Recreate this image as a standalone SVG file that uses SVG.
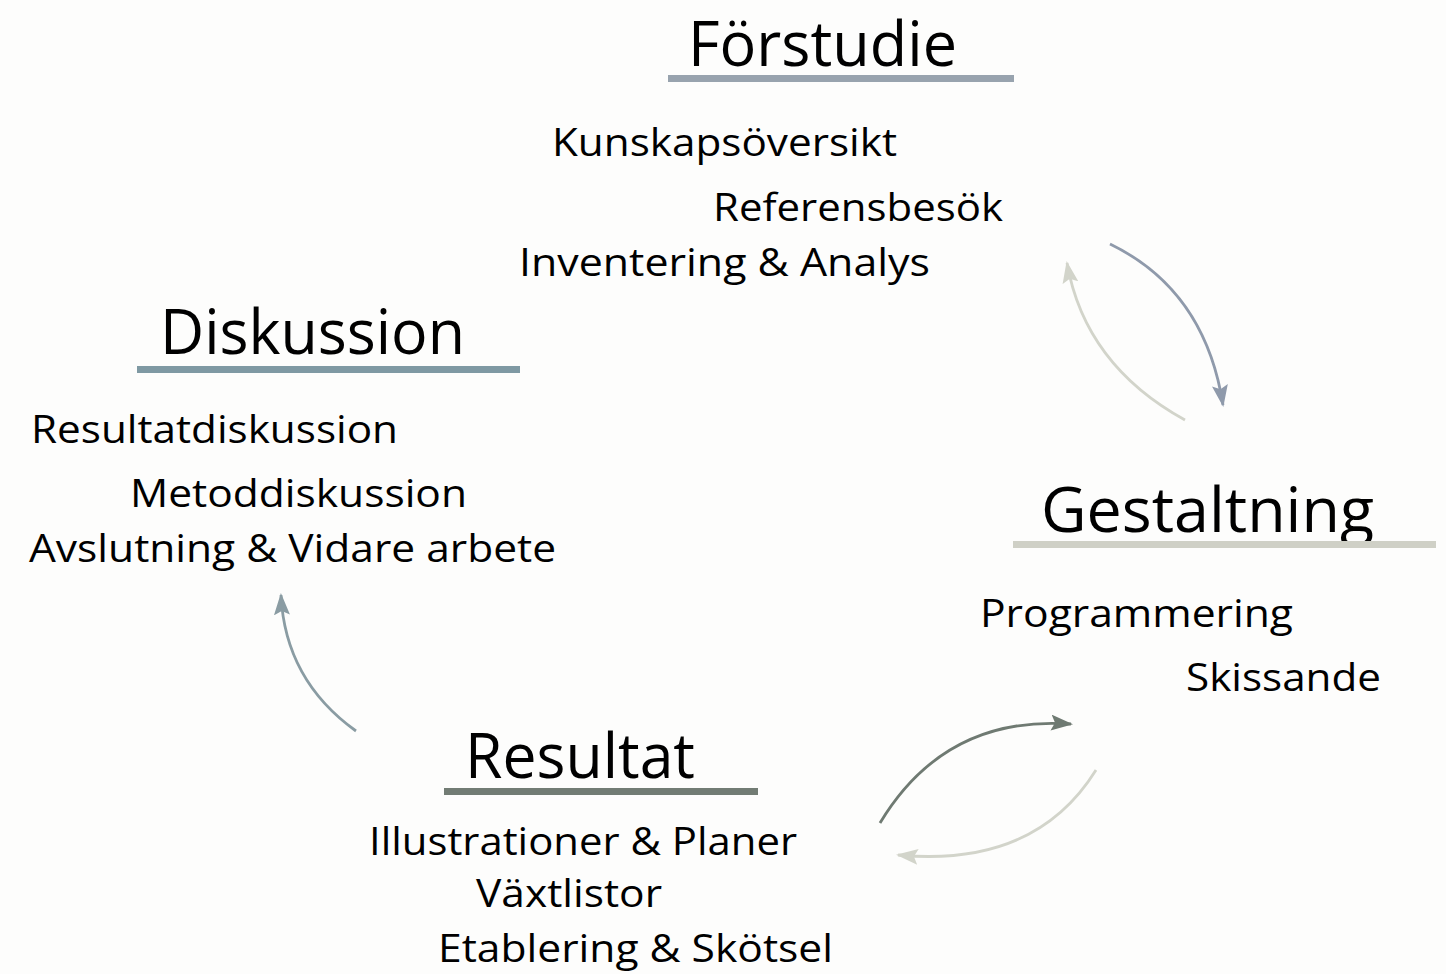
<svg xmlns="http://www.w3.org/2000/svg" width="1446" height="974" viewBox="0 0 1446 974">
<defs>
<style>
text{font-family:"Open Sans","Noto Sans",sans-serif;fill:#000}
.h{font-size:62px}
.s{font-size:38px}
.c{fill:none;stroke-width:2.8}
</style>
<marker id="mA" viewBox="0 0 22 16" refX="20" refY="8" markerWidth="22" markerHeight="16" markerUnits="userSpaceOnUse" orient="auto"><path d="M0,0 L22,8 L0,16 L4,8 Z" fill="#8f9aab"/></marker>
<marker id="mB" viewBox="0 0 22 16" refX="20" refY="8" markerWidth="22" markerHeight="16" markerUnits="userSpaceOnUse" orient="auto"><path d="M0,0 L22,8 L0,16 L4,8 Z" fill="#d2d4ca"/></marker>
<marker id="mC" viewBox="0 0 22 16" refX="20" refY="8" markerWidth="22" markerHeight="16" markerUnits="userSpaceOnUse" orient="auto"><path d="M0,0 L22,8 L0,16 L4,8 Z" fill="#6f7a72"/></marker>
<marker id="mD" viewBox="0 0 22 16" refX="20" refY="8" markerWidth="22" markerHeight="16" markerUnits="userSpaceOnUse" orient="auto"><path d="M0,0 L22,8 L0,16 L4,8 Z" fill="#8a9ca3"/></marker>
</defs>
<rect width="1446" height="974" fill="#fdfdfc"/>
<g id="forstudie">
<text class="h" x="688" y="66" textLength="269" lengthAdjust="spacingAndGlyphs">Förstudie</text>
<rect x="668" y="75" width="346" height="7" fill="#98a3ae"/>
<text class="s" x="552" y="156" textLength="345" lengthAdjust="spacingAndGlyphs">Kunskapsöversikt</text>
<text class="s" x="713" y="221" textLength="290" lengthAdjust="spacingAndGlyphs">Referensbesök</text>
<text class="s" x="519" y="276" textLength="411" lengthAdjust="spacingAndGlyphs">Inventering &amp; Analys</text>
</g>
<g id="diskussion">
<text class="h" x="160" y="354" textLength="305" lengthAdjust="spacingAndGlyphs">Diskussion</text>
<rect x="137" y="366" width="383" height="7" fill="#7f99a3"/>
<text class="s" x="31" y="443" textLength="367" lengthAdjust="spacingAndGlyphs">Resultatdiskussion</text>
<text class="s" x="130" y="507" textLength="337" lengthAdjust="spacingAndGlyphs">Metoddiskussion</text>
<text class="s" x="29" y="562" textLength="527" lengthAdjust="spacingAndGlyphs">Avslutning &amp; Vidare arbete</text>
</g>
<g id="gestaltning">
<text class="h" x="1041" y="532" textLength="333" lengthAdjust="spacingAndGlyphs">Gestaltning</text>
<rect x="1013" y="541" width="423" height="7" fill="#cfd0c6"/>
<text class="s" x="980" y="627" textLength="313" lengthAdjust="spacingAndGlyphs">Programmering</text>
<text class="s" x="1186" y="691" textLength="195" lengthAdjust="spacingAndGlyphs">Skissande</text>
</g>
<g id="resultat">
<text class="h" x="465" y="778" textLength="230" lengthAdjust="spacingAndGlyphs">Resultat</text>
<rect x="444" y="788" width="314" height="7" fill="#727c74"/>
<text class="s" x="369" y="855" textLength="428" lengthAdjust="spacingAndGlyphs">Illustrationer &amp; Planer</text>
<text class="s" x="476" y="907" textLength="186" lengthAdjust="spacingAndGlyphs">Växtlistor</text>
<text class="s" x="438" y="962" textLength="395" lengthAdjust="spacingAndGlyphs">Etablering &amp; Skötsel</text>
</g>
<g id="connectors">
<path class="c" d="M1110,244 Q1205,290 1223,405" stroke="#8f9aab" marker-end="url(#mA)"/>
<path class="c" d="M1185,420 Q1085,365 1067,263" stroke="#d2d4ca" marker-end="url(#mB)"/>
<path class="c" d="M880,823 Q945,715 1071,724" stroke="#6f7a72" marker-end="url(#mC)"/>
<path class="c" d="M1096,770 Q1035,868 898,855" stroke="#d2d4ca" marker-end="url(#mB)"/>
<path class="c" d="M356,731 Q285,680 281,595" stroke="#8a9ca3" marker-end="url(#mD)"/>
</g>
</svg>
